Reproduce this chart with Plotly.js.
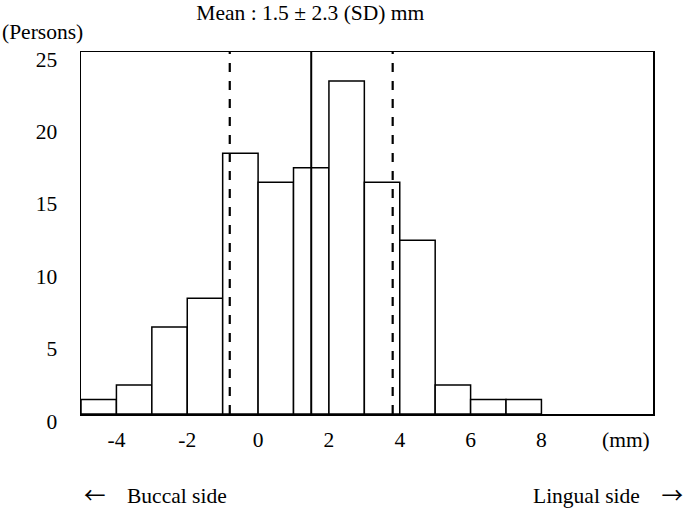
<!DOCTYPE html>
<html>
<head>
<meta charset="utf-8">
<script src="https://cdn.plot.ly/plotly-3.0.1.min.js"></script>
<style>html,body{margin:0;padding:0;background:#fff;}#chart{width:685px;height:508px;}</style>
</head>
<body>
<div id="chart"></div>
<script>
// Histogram bins (centre of each 1 mm bin) and counts
const binCenters = [-4.5, -3.5, -2.5, -1.5, -0.5, 0.5, 1.5, 2.5, 3.5, 4.5, 5.5, 6.5, 7.5];
const counts     = [1, 2, 6, 8, 18, 16, 17, 23, 16, 12, 2, 1, 1];
const xTickVals  = [-4, -2, 0, 2, 4, 6, 8];
const xTickText  = ["-4", "-2", "0", "2", "4", "6", "8"];
const yTickVals  = [0, 5, 10, 15, 20, 25];
const meanVal = 1.5;
const sdVal = 2.3;

const font = "Liberation Serif, Times New Roman, serif";
const cjk = "Noto Sans CJK JP";
const fs = 21.5;

const traces = [{
  type: 'bar',
  x: binCenters,
  y: counts,
  width: 1,
  marker: {color: '#ffffff', line: {color: '#000000', width: 1.5}},
  hoverinfo: 'x+y'
}];

const shapes = [
  {type:'line', xref:'x', yref:'paper', x0:meanVal, x1:meanVal, y0:0, y1:1, line:{color:'#000', width:2}},
  {type:'line', xref:'x', yref:'paper', x0:meanVal-sdVal, x1:meanVal-sdVal, y0:0, y1:1, line:{color:'#000', width:2.2, dash:'dash'}},
  {type:'line', xref:'x', yref:'paper', x0:meanVal+sdVal, x1:meanVal+sdVal, y0:0, y1:1, line:{color:'#000', width:2.2, dash:'dash'}}
];

const layout = {
  width: 685, height: 508,
  margin: {l: 81, r: 32, t: 52, b: 94},
  paper_bgcolor: '#fff', plot_bgcolor: '#fff',
  showlegend: false,
  font: {family: font, size: fs, color: '#000'},
  title: {text: 'Mean : ' + meanVal + ' ± ' + sdVal + ' (SD) mm',
          x: 0.453, xanchor: 'center', y: 0.975, yanchor: 'middle', yref: 'container', font: {family: font, size: fs, color: '#000'}},
  xaxis: {
    range: [-5, 11.15], showgrid: false, zeroline: false,
    showline: true, mirror: true, linecolor: '#000', linewidth: 1.5,
    ticks: '', tickvals: xTickVals, ticktext: xTickText,
    ticklabelstandoff: 6, tickfont: {family: font, size: fs}
  },
  yaxis: {
    range: [0, 25], showgrid: false, zeroline: false,
    showline: true, mirror: true, linecolor: '#000', linewidth: 1.5,
    ticks: '', tickvals: yTickVals,
    ticklabelstandoff: 18, ticklabelshift: 7, tickfont: {family: font, size: fs}
  },
  bargap: 0,
  shapes: shapes,
  annotations: [
    {text: '(Persons)', xref: 'paper', yref: 'paper', x: -0.1416, y: 1.055, xanchor: 'left', yanchor: 'middle', showarrow: false, font: {family: font, size: fs}},
    {text: '(mm)', xref: 'paper', yref: 'paper', x: 0.998, y: -0.0724, xanchor: 'right', yanchor: 'middle', showarrow: false, font: {family: font, size: fs}},
    {text: '<span style="font-family:' + cjk + '">←</span>    Buccal side', xref: 'paper', yref: 'paper', x: 0.0017, y: -0.219, xanchor: 'left', yanchor: 'middle', showarrow: false, font: {family: font, size: fs}},
    {text: 'Lingual side    <span style="font-family:' + cjk + '">→</span>', xref: 'paper', yref: 'paper', x: 1.056, y: -0.219, xanchor: 'right', yanchor: 'middle', showarrow: false, font: {family: font, size: fs}}
  ]
};

Plotly.newPlot('chart', traces, layout, {displayModeBar: false, staticPlot: true});
</script>
</body>
</html>
